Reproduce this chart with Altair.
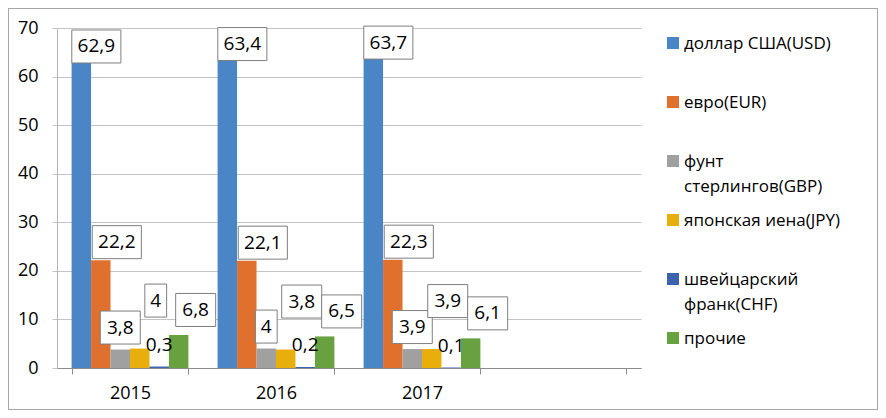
import altair as alt
import pandas as pd

# ---- data ----
years = ["2015", "2016", "2017"]
x_domain = ["2015", "2016", "2017", ""]
series = ["доллар США(USD)", "евро(EUR)", "фунт стерлингов(GBP)",
          "японская иена(JPY)", "швейцарский франк(CHF)", "прочие"]
legend_labels = ["доллар США(USD)", "евро(EUR)", "фунт\nстерлингов(GBP)",
                 "японская иена(JPY)", "швейцарский\nфранк(CHF)", "прочие"]
usd = [62.9, 63.4, 63.7]
eur = [22.2, 22.1, 22.3]
gbp = [3.8, 4.0, 3.9]
jpy = [4.0, 3.8, 3.9]
chf = [0.3, 0.2, 0.1]
other = [6.8, 6.5, 6.1]
values = [usd, eur, gbp, jpy, chf, other]

# ---- styles / layout ----
colors = ["#4A85C6", "#E0702D", "#A0A0A0", "#E8AE0C", "#3D63AE", "#68A13F"]
LABEL_DX = [15, 16, 0, 16, 0, 17]
LABEL_DY = [16, 18, 22, 48, 22, 25]
BOXED = [True, True, True, True, False, True]
FONT = "Open Sans"

rows = []
for s, vals in zip(series, values):
    for y, v in zip(years, vals):
        rows.append({"year": y, "series": s, "value": v})
df = pd.DataFrame(rows)
leg_df = pd.DataFrame({"series": series, "label": legend_labels})

x_enc = alt.X("year:N",
              scale=alt.Scale(domain=x_domain, paddingInner=0.2, paddingOuter=0.1),
              axis=alt.Axis(title=None, labelAngle=0, labelFont=FONT, labelFontSize=18,
                            labelColor="#000000", tickBand="extent", tickSize=6,
                            tickColor="#8c8c8c", domainColor="#8c8c8c", labelPadding=10,
                            grid=False))
xo_enc = alt.XOffset("series:N", scale=alt.Scale(domain=series, paddingInner=0, paddingOuter=0))
y_scale = alt.Scale(domain=[0, 70])
y_enc = alt.Y("value:Q", scale=y_scale,
              axis=alt.Axis(title=None, values=[0, 10, 20, 30, 40, 50, 60, 70],
                            labelFont=FONT, labelFontSize=18, labelColor="#000000",
                            tickSize=5, tickColor="#c4c4c4", gridColor="#c4c4c4",
                            domainColor="#b4b4b4", labelPadding=14))
color_enc = alt.Color("series:N", scale=alt.Scale(domain=series, range=colors), legend=None)

bars = alt.Chart(df).mark_bar(opacity=1).encode(x=x_enc, xOffset=xo_enc, y=y_enc, color=color_enc)

label_layers = []
for i, s in enumerate(series):
    dx, dy = LABEL_DX[i], LABEL_DY[i]
    base = alt.Chart(df).transform_filter(alt.datum.series == s).transform_calculate(
        label="replace(toString(datum.value), '.', ',')"
    )
    if BOXED[i]:
        w = "(length(datum.label)*9.1+12.7)"
        l = f"({dx}-{w}/2)"
        r = f"({dx}+{w}/2)"
        t = f"{-dy - 16.5}"
        b = f"{-dy + 16.5}"
        path = (f"'M'+{l}+','+{t}+'L'+{r}+','+{t}+'L'+{r}+','+{b}"
                f"+'L'+{l}+','+{b}+'Z'")
        box = base.transform_calculate(path=path).mark_point(
            size=4, filled=True, fill="white", stroke="#7f7f7f", strokeWidth=1,
            opacity=1, fillOpacity=1, strokeOpacity=1
        ).encode(x=x_enc, xOffset=xo_enc, y=alt.Y("value:Q", scale=y_scale),
                 shape=alt.Shape("path:N", scale=None))
        label_layers.append(box)
    txt = base.mark_text(dx=dx, dy=-dy, font=FONT, fontSize=19, color="#000000",
                         baseline="middle", align="center").encode(
        x=x_enc, xOffset=xo_enc, y=alt.Y("value:Q", scale=y_scale), text="label:N")
    label_layers.append(txt)

main = alt.layer(bars, *label_layers)

leg_y = alt.Y("series:N", scale=alt.Scale(domain=series, range=[15, 310], padding=0), axis=None)
leg_sq = alt.Chart(leg_df).mark_square(size=144, opacity=1).encode(
    x=alt.value(616), y=leg_y, color=color_enc)
leg_txt = alt.Chart(leg_df).mark_text(align="left", baseline="alphabetic", dy=6,
                                      lineBreak="\n", font=FONT, fontSize=17,
                                      lineHeight=25, color="#000000").encode(
    x=alt.value(627), y=leg_y, text="label:N")
legend = alt.layer(leg_sq, leg_txt)

border = alt.Chart(leg_df).mark_rect(filled=False, stroke="#a6a6a6", strokeWidth=1).encode(
    x=alt.value(-48.5), x2=alt.value(820.5), y=alt.value(-19.5), y2=alt.value(381.5))

chart = alt.layer(main, legend, border).resolve_scale(y="independent").properties(
    width=584, height=340,
    padding={"left": 49, "top": 20, "right": 237, "bottom": 42},
    autosize=alt.AutoSizeParams(type="none"),
).configure_view(stroke=None)

chart.save("out.html", embed_options={"renderer": "svg", "actions": False})
